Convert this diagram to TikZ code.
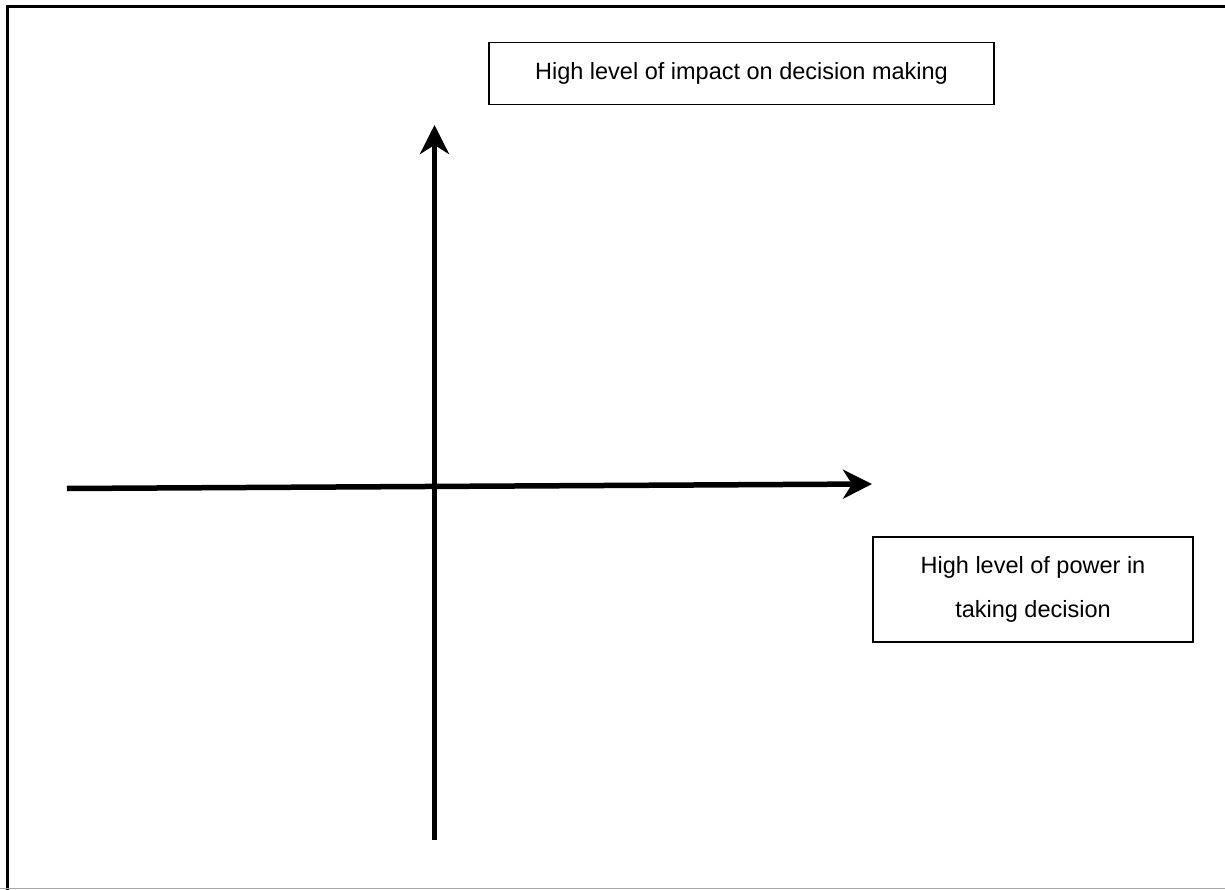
\documentclass[tikz,border=0pt]{standalone}
\usepackage{fontspec}
\setmainfont{Liberation Sans}
\usetikzlibrary{arrows.meta}
\begin{document}
\begin{tikzpicture}[x=1pt,y=-1pt,
  axis/.style={line width=5.5pt,-{Stealth[length=29pt,width=29pt,inset=9pt]}},
  labelbox/.style={draw=black,line width=1.3pt,align=center,inner sep=0pt,
    font=\fontsize{23.5}{44}\selectfont}]
  \useasboundingbox (0,0) rectangle (1225,890);
  \fill[white] (0,0) rectangle (1225,890);
  % frame
  \draw[line width=3pt] (7.5,890) -- (7.5,6.5) -- (1225,6.5);
  \draw[gray!70,line width=1pt] (0,888.5) -- (1225,888.5);
  % axes
  \coordinate (ybot) at (434.5,840);
  \coordinate (ytop) at (434.5,125);
  \coordinate (xleft) at (67,488.5);
  \coordinate (xright) at (872,484);
  \draw[axis] (ybot) -- (ytop);
  \draw[axis] (xleft) -- (xright);
  % labels
  \node[labelbox,minimum width=505pt,minimum height=62pt] (impact) at (741.5,73.5)
    {High level of impact on decision making};
  \node[labelbox,minimum width=320pt,minimum height=105pt] (power) at (1033,589.5)
    {High level of power in\\taking decision};
\end{tikzpicture}
\end{document}
